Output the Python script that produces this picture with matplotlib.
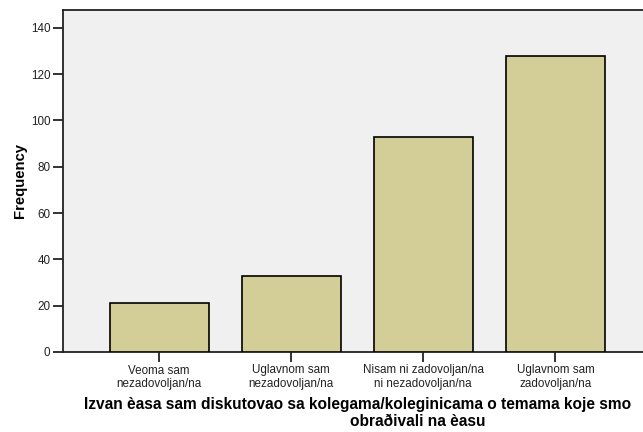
import matplotlib
matplotlib.use('Agg')
import matplotlib.pyplot as plt
import numpy as np

plt.rcParams['font.family'] = ['Liberation Sans', 'DejaVu Sans']

categories = ['Veoma sam\nnezadovoljan/na', 'Uglavnom sam\nnezadovoljan/na',
              'Nisam ni zadovoljan/na\nni nezadovoljan/na', 'Uglavnom sam\nzadovoljan/na']
frequency = [21, 33, 93, 128]
yticks = [0, 20, 40, 60, 80, 100, 120, 140]
title_lines = ['Izvan èasa sam diskutovao sa kolegama/koleginicama o temama koje smo',
               'obraðivali na èasu']

W, H = 643, 432
fig = plt.figure(figsize=(W / 100, H / 100), dpi=100)
ax = fig.add_axes([63/W, 80/H, 580/W, 342/H])
ax.set_facecolor('#f0f0f0')

x = np.arange(len(categories))
ax.bar(x, frequency, width=0.75, color='#d3ce97', edgecolor='black', linewidth=1.2, zorder=3)

ax.set_xlim(-0.727, 3.663)
ax.set_ylim(0, 147.7)
ax.set_yticks(yticks)
ax.set_yticklabels([str(v) for v in yticks], fontsize=8.4, color='#222222')
ax.set_xticks(x)
ax.set_xticklabels(categories, fontsize=8.4, linespacing=1.2, color='#222222')
ax.tick_params(axis='both', direction='out', length=7, width=1.3, color='#222222', pad=2)

for side in ['left', 'bottom', 'top']:
    ax.spines[side].set_linewidth(1.3)
    ax.spines[side].set_color('#222222')
ax.spines['right'].set_visible(False)

ax.set_ylabel('Frequency', fontsize=10.7, fontweight='bold', labelpad=3)

# two-line axis title, positioned like the original
fig.text(358/W, 1 - 405/H, title_lines[0], ha='center', va='center',
         fontsize=11.2, fontweight='bold')
fig.text(418/W, 1 - 421/H, title_lines[1], ha='center', va='center',
         fontsize=11.2, fontweight='bold')

fig.savefig('out.png', dpi=100)
